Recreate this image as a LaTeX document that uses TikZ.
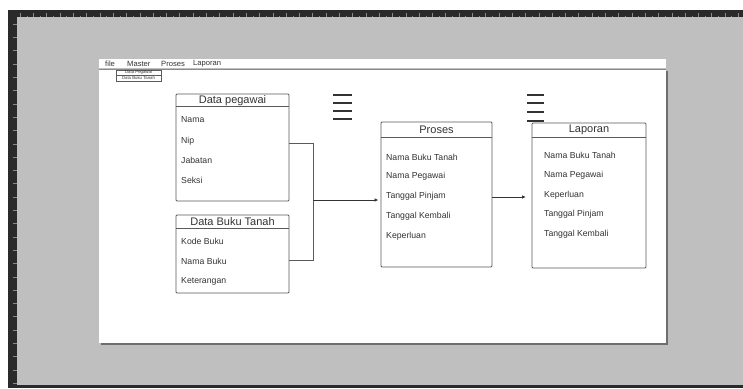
\documentclass[tikz,border=0pt]{standalone}
\usepackage{fontspec}
\setmainfont{Liberation Sans}
\usetikzlibrary{arrows.meta}
\definecolor{canvas}{HTML}{BFBFBF}
\definecolor{ruler}{HTML}{2A2A2A}
\definecolor{tick}{HTML}{8A8A8A}
\definecolor{edge}{HTML}{5A5A5A}
\definecolor{ink}{HTML}{333333}
\definecolor{shadow}{HTML}{6E6E6E}
\tikzset{
  box/.style={draw=edge, line width=0.9pt, rounded corners=1pt, fill=white, inner sep=0pt, outer sep=0pt},
  sep/.style={draw=edge, line width=0.9pt},
  title/.style={font=\fontsize{11}{12}\selectfont, text=ink, inner sep=0pt},
  item/.style={font=\fontsize{8.7}{10}\selectfont, text=ink, anchor=west, inner sep=0pt},
  menu/.style={font=\fontsize{7.6}{8}\selectfont, text=ink, anchor=west, inner sep=0pt},
  sub/.style={draw=edge, line width=0.4pt, fill=white, inner sep=0pt, minimum width=45pt, minimum height=5.5pt, font=\fontsize{4.3}{4.5}\selectfont, text=ink},
  conn/.style={draw=edge, line width=0.9pt},
  arr/.style={draw=ink, line width=0.9pt, -{Latex[length=4pt,width=3.5pt]}},
  burger/.style={draw=ink, line width=1.8pt},
}
\begin{document}
\begin{tikzpicture}[x=1pt,y=-1pt]
\useasboundingbox (0,0) rectangle (743,388);
% background
\fill[white] (0,0) rectangle (743,388);
\fill[canvas] (8,10) rectangle (743,388);
% rulers
\fill[ruler] (8,10) rectangle (743,17);
\fill[ruler] (8,10) rectangle (17,388);
\fill[ruler] (8,385) rectangle (743,388);
\foreach \i in {0,...,54} {
  \draw[tick, line width=0.4pt] (20+13.3*\i,17) -- (20+13.3*\i,13);
  \draw[tick, line width=0.3pt] (26.65+13.3*\i,17) -- (26.65+13.3*\i,15.5);
}
\foreach \i in {0,...,27} {
  \draw[tick, line width=0.4pt] (17,24+13.3*\i) -- (13,24+13.3*\i);
}
% page with shadow
\fill[shadow] (101,71) rectangle (668,345);
\fill[white] (99,69) rectangle (666,343);
\fill[white] (99,59) rectangle (666,68.3);
\draw[tick, line width=0.6pt] (99,68.8) -- (666,68.8);
% menu
\node[menu] (mfile) at (105,64) {file};
\node[menu] (mmaster) at (127,64) {Master};
\node[menu] (mproses) at (161,64) {Proses};
\node[menu] (mlap) at (193,64) {Laporan};
\node[sub] (s1) at (138.5,72.5) {Data Pegawai};
\node[sub] (s2) at (138.5,78) {Data Buku Tanah};
% hamburger icons
\foreach \y in {95,103,111,119} \draw[burger] (333,\y) -- (352,\y);
\foreach \y in {95,103,112,121} \draw[burger] (527,\y) -- (544,\y);
% Data pegawai
\node[box, minimum width=113pt, minimum height=107pt] (peg) at (232.5,147.5) {};
\draw[sep] (176,106) -- (289,106);
\node[title] (pegT) at (232.5,100.5) {Data pegawai};
\node[item] (peg1) at (181,120) {Nama};
\node[item] (peg2) at (181,141) {Nip};
\node[item] (peg3) at (181,160.5) {Jabatan};
\node[item] (peg4) at (181,180) {Seksi};
% Data Buku Tanah
\node[box, minimum width=113pt, minimum height=78pt] (buku) at (232.5,254) {};
\draw[sep] (176,228) -- (289,228);
\node[title] (bukuT) at (232.5,221.5) {Data Buku Tanah};
\node[item] (buku1) at (181,241) {Kode Buku};
\node[item] (buku2) at (181,261) {Nama Buku};
\node[item] (buku3) at (181,281) {Keterangan};
% Proses
\node[box, minimum width=111pt, minimum height=145pt] (pro) at (436.5,194.5) {};
\draw[sep] (381,137) -- (492,137);
\node[title] (proT) at (436.5,129.5) {Proses};
\node[item] (pro1) at (386,157) {Nama Buku Tanah};
\node[item] (pro2) at (386,176.5) {Nama Pegawai};
\node[item] (pro3) at (386,196) {Tanggal Pinjam};
\node[item] (pro4) at (386,216) {Tanggal Kembali};
\node[item] (pro5) at (386,236) {Keperluan};
% Laporan
\node[box, minimum width=114pt, minimum height=145pt] (lap) at (589,195.5) {};
\draw[sep] (532,137) -- (646,137);
\node[title] (lapT) at (589,130) {Laporan};
\node[item] (lap1) at (544,155) {Nama Buku Tanah};
\node[item] (lap2) at (544,175) {Nama Pegawai};
\node[item] (lap3) at (544,195) {Keperluan};
\node[item] (lap4) at (544,214.5) {Tanggal Pinjam};
\node[item] (lap5) at (544,234) {Tanggal Kembali};
% connectors
\coordinate (jt) at (313,143);
\coordinate (jb) at (313,260);
\coordinate (jm) at (313,200);
\coordinate (pr) at (492,197);
\draw[conn] (peg.east |- jt) -- (jt) -- (jb) -- (buku.east |- jb);
\draw[arr, shorten >=2.5pt] (jm) -- (pro.west |- jm);
\draw[arr, shorten >=6pt] (pro.east |- pr) -- (lap.west |- pr);
\end{tikzpicture}
\end{document}
